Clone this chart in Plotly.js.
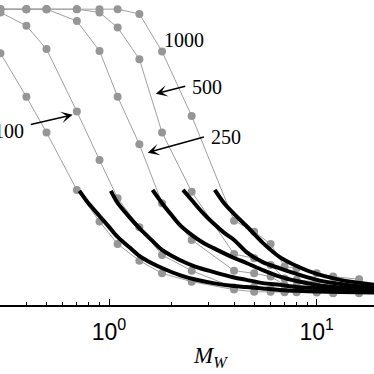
<!DOCTYPE html>
<html><head><meta charset="utf-8">
<script src="https://cdn.plot.ly/plotly-3.0.1.min.js"></script>
<style>html,body{margin:0;padding:0;background:#fff}#chart{width:374px;height:374px}</style>
</head><body><div id="chart"></div>
<script>
// Shared M_W grid of the measured series
var mw = [0.3,0.4,0.5,0.7,0.9,1.1,1.4,1.8,2.5,4,5,6,7,8,10,12,16];
// Measured series (gray dots), one per label
var sA    = [85.1,70.4,58.3,38.9,28.2,20.6,15.0,10.7,7.9,5.2,4.5,4.5,4.3,4.3,4.2,4.0,4.0];
var s100  = [98.9,94.4,86.5,65.4,49.0,36.1,26.3,16.9,11.6,5.9,6.2,5.3,4.6,4.5,4.4,4.1,4.1];
var s250  = [100,100,100,96.0,85.9,70.4,54.3,34.4,22.0,11.6,10.7,9.6,6.8,6.4,5.7,5.4,5.1];
var s500  = [100,100,100,100,98.9,93.8,83.1,58.3,38.3,17.2,15.8,13.5,9.0,8.5,7.8,7.1,6.4];
var s1000 = [100,100,100,100,100,100,98.4,85.7,63.9,28.5,24.8,20.6,13.0,12.4,10.7,9.6,8.7];

// Fitted curves (black)
var fAx = [0.72,0.8,0.9,1.0,1.1,1.25,1.4,1.6,1.8,2.19,2.6,3.17,4,4.59,5.5,6.64,8,10,13,19];
var fAy = [38.6,34.2,30.1,26.4,23.0,19.6,16.6,14.2,12.5,10.1,8.6,7.4,6.4,6.1,5.6,5.1,4.8,4.6,4.4,4.2];
var fBx = [1.02,1.1,1.25,1.4,1.6,1.8,2.19,2.6,3.17,4,4.59,5.5,6.64,8,10,13,19];
var fBy = [38.6,34.5,29.8,26.0,22.0,18.6,15.2,13.0,11.2,9.3,8.5,7.4,6.8,6.1,5.7,5.2,4.7];
var fCx = [1.62,1.8,2.0,2.19,2.5,2.8,3.17,4,4.59,5.5,6.64,8,10,13,19];
var fCy = [38.9,34.4,30.4,27.1,23.7,21.3,19.3,15.9,14.2,11.8,9.6,8.1,6.8,5.9,5.1];
var fDx = [2.27,2.5,2.8,3.17,3.6,4,4.59,5.5,6.64,8,10,13,19];
var fDy = [38.9,35.5,31.5,27.7,24.3,22.0,17.9,14.5,12.4,10.5,8.5,7.1,5.7];
var fEx = [3.23,3.6,4,4.59,5.5,6.64,8,10,13,19];
var fEy = [38.9,34.2,30.8,26.7,21.0,16.2,13.2,10.5,8.5,6.8];

var labels = ['1000','500','250','100'];
var tickVals = [1,10];
var tickText = ['10<sup>0</sup>','10<sup>1</sup>'];
var minorVals = [0.3,0.4,0.5,0.6,0.7,0.8,0.9,2,3,4,5,6,7,8,9,20];

var gray = 'rgb(150,150,150)';
var traces = [];
[sA,s100,s250,s500,s1000].forEach(function(s){
  traces.push({x:mw,y:s,type:'scatter',mode:'lines+markers',
    line:{color:'rgb(160,160,160)',width:1},
    marker:{color:gray,size:8},hoverinfo:'skip',showlegend:false});
});
[[fAx,fAy],[fBx,fBy],[fCx,fCy],[fDx,fDy],[fEx,fEy]].forEach(function(f){
  traces.push({x:f[0],y:f[1],type:'scatter',mode:'lines',
    line:{color:'black',width:4,shape:'spline',smoothing:0.8},
    hoverinfo:'skip',showlegend:false});
});

var serif = 'Liberation Serif, DejaVu Serif, serif';
var lf = {family:serif,size:20,color:'black'};
var annotations = [
  {x:0.360,y:89.6,xref:'x',yref:'y',text:labels[0],showarrow:false,font:lf},
  {x:0.470,y:73.6,xref:'x',yref:'y',text:labels[1],showarrow:false,font:lf},
  {x:0.565,y:56.7,xref:'x',yref:'y',text:labels[2],showarrow:false,font:lf},
  {x:-0.400,y:58.9,xref:'x',yref:'y',text:labels[3],showarrow:false,font:lf,xanchor:'right'},
  {x:0.225,y:71.4,ax:0.374,ay:74.1,xref:'x',yref:'y',axref:'x',ayref:'y',text:'',showarrow:true,arrowhead:3,arrowsize:1.3,arrowwidth:1.5,arrowcolor:'black'},
  {x:0.186,y:51.5,ax:0.464,ay:56.9,xref:'x',yref:'y',axref:'x',ayref:'y',text:'',showarrow:true,arrowhead:3,arrowsize:1.3,arrowwidth:1.5,arrowcolor:'black'},
  {x:-0.175,y:64.3,ax:-0.384,ay:60.9,xref:'x',yref:'y',axref:'x',ayref:'y',text:'',showarrow:true,arrowhead:3,arrowsize:1.3,arrowwidth:1.5,arrowcolor:'black'},
  {x:0.564,y:-0.17,xref:'paper',yref:'paper',text:'<i>M</i><sub><i>W</i></sub>',showarrow:false,
   font:{family:serif,size:23,color:'black'},yanchor:'middle'}
];

var layout = {
  width:374,height:374,
  margin:{l:0,r:0,t:0,b:69,pad:0},
  paper_bgcolor:'white',plot_bgcolor:'white',
  showlegend:false,
  xaxis:{type:'log',range:[-0.525,1.276],showgrid:false,zeroline:false,
    showline:true,linecolor:'black',linewidth:1.5,
    tickmode:'array',tickvals:tickVals,ticktext:tickText,
    ticks:'inside',ticklen:6,tickwidth:1,tickcolor:'black',
    ticklabelstandoff:6,
    tickfont:{family:'Liberation Sans, Arial, sans-serif',size:23,color:'black'},
    minor:{tickmode:'array',tickvals:minorVals,ticks:'inside',ticklen:3,tickwidth:1,tickcolor:'black',showgrid:false}
  },
  yaxis:{range:[0,103.1],visible:false,showgrid:false,zeroline:false},
  annotations:annotations
};
Plotly.newPlot('chart',traces,layout,{staticPlot:true,displayModeBar:false});
</script></body></html>
